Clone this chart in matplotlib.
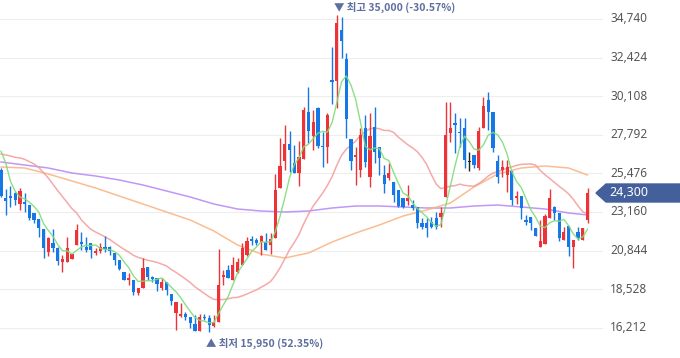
import matplotlib.pyplot as plt
import matplotlib.patches as mpatches
import matplotlib.transforms as mtransforms
import numpy as np
import pandas as pd


# --------------------------------------------------
# DATA (daily candles)
# --------------------------------------------------

opens = [
    25680, 24000, 24120, 24300, 23640, 23760, 23580, 23100, 22740, 22140,
    20760, 21300, 21000, 20160, 20160, 20340, 21180, 21360, 21060, 21300,
    20700, 20820, 21060, 21060, 20700, 20280, 19560, 19080, 19080, 18300,
    18600, 19860, 19260, 19200, 18600, 18960, 18240, 17100, 16920, 17040,
    16860, 16440, 16020, 16860, 16800, 16320, 16560, 19260, 19680, 19080,
    19560, 19980, 20580, 21540, 21480, 21360, 21360, 21180, 21600, 24600,
    26220, 27240, 26100, 25500, 26340, 29160, 27720, 29400, 27120, 27060,
    31080, 31020, 34080, 32340, 27540, 26460, 25680, 28200, 25260, 28260,
    27060, 25380, 25200, 24960, 24480, 24000, 23820, 23580, 23460, 22500,
    22500, 22560, 22800, 22860, 24060, 27900, 28500, 27960, 28200, 26160,
    26580, 25800, 28200, 29880, 29160, 26220, 25680, 25380, 25620, 24000,
    24120, 22680, 22860, 22200, 21060, 21240, 22800, 23460, 23100, 21480,
    22320, 21060, 21960, 21480, 22680,
]

highs = [
    25800, 24540, 24720, 24360, 24600, 24300, 23580, 23100, 22740, 22140,
    21660, 22140, 21060, 20580, 21660, 20640, 22440, 21960, 21660, 21300,
    21000, 21300, 21720, 21120, 20700, 20280, 19560, 19500, 19080, 18600,
    20400, 19860, 19320, 19200, 19200, 18960, 18240, 17760, 17700, 17160,
    16860, 16980, 17040, 17040, 16980, 16980, 20940, 19680, 19980, 20460,
    20400, 21300, 21660, 21720, 21600, 21780, 21900, 21900, 25440, 27600,
    28380, 28020, 27180, 27420, 29460, 30660, 29280, 29460, 27960, 29100,
    33060, 35000, 34860, 32700, 27540, 27060, 28200, 28980, 29100, 29460,
    27060, 25980, 26100, 24960, 24480, 24000, 24780, 23880, 23460, 22800,
    22800, 22860, 23160, 23460, 29760, 29760, 29100, 28800, 28800, 26760,
    26580, 28260, 30060, 30360, 29160, 26580, 26280, 26280, 25620, 24420,
    24120, 22980, 22860, 22200, 22680, 23040, 24540, 23520, 23100, 22260,
    22320, 21480, 22260, 22200, 24600,
]

lows = [
    24060, 22980, 23460, 23580, 23280, 23160, 22680, 22500, 21660, 20400,
    20520, 20760, 19980, 19560, 20160, 20340, 21180, 20880, 20760, 20400,
    20580, 20700, 20760, 20580, 19980, 19680, 19080, 18780, 18180, 18180,
    18600, 19080, 18960, 18420, 18480, 18180, 17580, 16080, 16860, 16680,
    16200, 16020, 16020, 16680, 15950, 16260, 16560, 18780, 19200, 19080,
    19500, 19980, 20520, 21180, 21180, 20580, 20880, 20640, 21600, 24600,
    25680, 25560, 25500, 24720, 26340, 27300, 26880, 27000, 25860, 26100,
    29640, 29400, 32400, 27600, 25680, 24780, 25260, 25860, 24660, 26100,
    25380, 24300, 25080, 23760, 23460, 23400, 23580, 23280, 22200, 22140,
    21660, 22200, 22140, 22260, 24060, 27360, 26700, 27060, 25800, 25620,
    25800, 25680, 28200, 28080, 26760, 24900, 25260, 24360, 23580, 23640,
    22740, 22380, 22080, 21720, 21060, 21240, 22800, 22680, 21420, 21480,
    20520, 19800, 21480, 21480, 22500,
]

closes = [
    24120, 23820, 24000, 23880, 24420, 23640, 22800, 22680, 22200, 21000,
    21600, 21000, 20220, 20340, 21000, 20640, 22080, 21240, 20880, 20880,
    20820, 21060, 20940, 20820, 20280, 19740, 19080, 19200, 18360, 18600,
    19800, 19260, 19140, 18840, 18960, 18480, 17820, 17760, 17040, 16860,
    16500, 16020, 16860, 16800, 16380, 16560, 18780, 19380, 19200, 19980,
    20160, 21000, 21420, 21420, 21300, 21720, 20880, 21540, 24480, 25920,
    27240, 26880, 25500, 26460, 29280, 28020, 28560, 27120, 27060, 28980,
    30960, 34500, 33420, 28740, 26220, 26580, 27780, 26160, 27720, 26760,
    26400, 24840, 25500, 24180, 23520, 23460, 24000, 23400, 22500, 22260,
    22200, 22260, 22260, 23100, 27780, 28200, 28380, 27900, 26280, 26160,
    25980, 28020, 29520, 29160, 27000, 25260, 25860, 25860, 23880, 24120,
    23400, 22560, 22500, 21720, 21420, 22920, 24000, 23100, 21600, 21960,
    21060, 21480, 21600, 22200, 24300,
]

# closes of the 19 days before the first visible candle (for MA5 / MA20)
prior_closes = [
    25000, 25200, 25500, 25100, 25400, 25600, 25440, 26500, 27200, 28000,
    28500, 27800, 27600, 28100, 27840, 27300, 29500, 26900, 26200,
]

# long averages every 5 candles
ma_long_idx = [
    0, 5, 10, 15, 20, 25, 30, 35, 40, 45, 50, 55, 60,
    65, 70, 75, 80, 85, 90, 95, 100, 105, 110, 115, 120, 124,
]
ma60 = [
    25860, 25800, 25440, 25020, 24600, 24120, 23640, 23160, 22680, 22020,
    21180, 20640, 20400, 20700, 21360, 21900, 22380, 22920, 23280, 23700,
    24660, 25440, 25800, 25920, 25800, 25380,
]
ma120 = [
    26160, 25980, 25800, 25500, 25320, 25080, 24780, 24420, 24060, 23640,
    23340, 23220, 23160, 23220, 23400, 23520, 23520, 23460, 23400, 23400,
    23520, 23580, 23460, 23340, 23100, 22980,
]

y_ticks = [16212, 18528, 20844, 23160, 25476, 27792, 30108, 32424, 34740]


# --------------------------------------------------
# MOVING AVERAGES
# --------------------------------------------------

n = len(closes)
x = np.arange(n)
alle = pd.Series(prior_closes + closes)
ma5 = alle.rolling(5).mean().iloc[len(prior_closes):].to_numpy()
ma20 = alle.rolling(20).mean().iloc[len(prior_closes):].to_numpy()


# --------------------------------------------------
# FIGURE
# --------------------------------------------------

W, H = 680, 358
fig = plt.figure(figsize=(W / 100, H / 100), dpi=100)
ax = fig.add_axes([0, 0, 603 / W, 1])
ax.set_xlim(-0.21, 127.27)
ax.set_ylim(14400, 35880)
ax.axis("off")

for t in y_ticks:
    ax.axhline(t, color="#ededed", lw=0.8, zorder=0)

lbl_tr = mtransforms.blended_transform_factory(ax.transAxes, ax.transData)
for t in y_ticks:
    ax.text(1.012, t, f"{t:,}", transform=lbl_tr, ha="left", va="center",
            fontsize=8.5, color="#555555", family="Noto Sans")

# moving average lines
ax.plot(ma_long_idx, ma120, color="#b07ef5", lw=1.1, alpha=0.8, zorder=2)
ax.plot(ma_long_idx, ma60, color="#f9b27e", lw=1.1, alpha=0.85, zorder=2)
ax.plot(x, ma20, color="#f59a9a", lw=1.1, alpha=0.85, zorder=2)
ax.plot(x, ma5, color="#7fdc7a", lw=1.0, alpha=0.9, zorder=4)


# --------------------------------------------------
# CANDLES
# --------------------------------------------------

o = np.array(opens)
c = np.array(closes)
colors = np.where(c > o, "#ee3338", np.where(c < o, "#1677e6", "#222222"))
bottoms = np.minimum(o, c)
heights = np.maximum(np.abs(c - o), 60)

ax.vlines(x, lows, highs, colors=colors, lw=1.0, zorder=3)
ax.bar(x, heights, bottom=bottoms, width=0.68, color=colors, lw=0, zorder=3)


# --------------------------------------------------
# MAX / MIN LABELS
# --------------------------------------------------

last = closes[-1]
i_max = int(np.argmax(highs))
i_min = int(np.argmin(lows))
hi = highs[i_max]
lo = lows[i_min]
lab_font = ["Noto Sans CJK KR", "DejaVu Sans"]

ax.annotate(f"▼ 최고 {hi:,} ({(last / hi - 1) * 100:.2f}%)",
            xy=(i_max, hi), xytext=(-3, 7), textcoords="offset pixels",
            ha="left", va="center", fontsize=7.5, fontweight="bold",
            color="#5d6f9f", family=lab_font, annotation_clip=False)
ax.annotate(f"▲ 최저 {lo:,} ({(last / lo - 1) * 100:.2f}%)",
            xy=(i_min, lo), xytext=(-3, -11), textcoords="offset pixels",
            ha="left", va="center", fontsize=7.5, fontweight="bold",
            color="#5d6f9f", family=lab_font, annotation_clip=False)


# --------------------------------------------------
# CURRENT PRICE TAG
# --------------------------------------------------

fig.canvas.draw()
yd = ax.transData.transform((0, last))[1]
tag = mpatches.Polygon(
    [(596, yd), (606, yd + 9), (W, yd + 9), (W, yd - 9), (606, yd - 9)],
    closed=True, color="#44609c", transform=mtransforms.IdentityTransform(),
    zorder=5,
)
fig.patches.append(tag)
fig.text(609 / W, yd / H, f"{last:,}", ha="left", va="center",
         fontsize=9, color="white", family="Noto Sans", zorder=6)


# --------------------------------------------------
# SAVE
# --------------------------------------------------

fig.savefig("out.png", dpi=100)
plt.close(fig)
